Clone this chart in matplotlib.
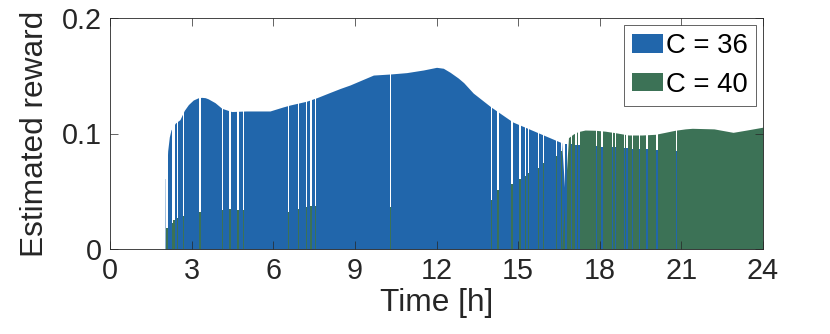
import numpy as np
import matplotlib
matplotlib.use('Agg')
import matplotlib.pyplot as plt
from matplotlib.patches import Patch

plt.rcParams['font.family'] = ['Liberation Sans', 'DejaVu Sans']

# time grid [h] and estimated reward of both configurations
t = np.array([2.02, 2.03, 2.07, 2.12, 2.18, 2.24, 2.40, 2.57, 2.73, 2.88, 3.06, 3.25, 3.37, 3.50, 3.61, 3.86,
              4.11, 4.47, 5.00, 5.88, 6.36, 6.62, 7.23, 7.60, 8.09, 8.46, 8.82, 9.19, 9.68, 10.29,
              10.9, 11.52, 12.0, 12.25, 12.5, 12.8, 13.0, 13.35, 14.0, 14.8, 15.3, 15.8, 16.1, 16.6,
              16.85, 17.03, 17.2, 17.46, 17.83, 18.2, 18.57, 19.06, 19.55, 20.04, 20.4, 20.77,
              21.14, 21.4, 22.2, 22.9, 23.4, 24.0])
c36 = np.array([0, 0.061, 0.061, 0.085, 0.097, 0.103, 0.109, 0.112, 0.120, 0.125, 0.129, 0.131, 0.1313, 0.131, 0.130, 0.1267,
                0.1218, 0.119, 0.1195, 0.1195, 0.123, 0.1247, 0.128, 0.131, 0.1356, 0.139, 0.142, 0.1457, 0.1506, 0.1515,
                0.1527, 0.155, 0.1573, 0.1565, 0.153, 0.148, 0.144, 0.135, 0.123, 0.110, 0.105, 0.100, 0.097, 0.092,
                0.0905, 0.090, 0.090, 0.0895, 0.089, 0.0886, 0.088, 0.0875, 0.087, 0.086, 0.0858, 0.085,
                0.085, 0.085, 0.085, 0.085, 0.085, 0.085])
c40 = np.array([0, 0.015, 0.017, 0.019, 0.020, 0.021, 0.025, 0.027, 0.029, 0.030, 0.031, 0.0315, 0.032, 0.0322, 0.0325, 0.033,
                0.0335, 0.0345, 0.034, 0.033, 0.032, 0.033, 0.036, 0.037, 0.037, 0.037, 0.037, 0.037, 0.0365, 0.0365,
                0.037, 0.0375, 0.038, 0.038, 0.038, 0.039, 0.039, 0.040, 0.042, 0.056, 0.063, 0.070, 0.076, 0.086,
                0.0964, 0.0996, 0.1016, 0.103, 0.1028, 0.102, 0.1007, 0.0987, 0.0987, 0.0993, 0.101, 0.1028,
                0.104, 0.1045, 0.104, 0.101, 0.103, 0.1055])

# instants where the upper series is missing and the lower one shows through
gap36_t = [2.10, 2.29, 2.35, 2.47, 2.70, 3.31, 4.13, 4.41, 4.70, 4.90, 6.56, 6.92, 7.23, 7.39, 7.56,
           10.32, 14.01, 14.26, 14.78, 15.07, 15.28, 15.38, 15.74, 15.93, 16.42, 16.60]
gap36_h = [0.018, 0.0225, 0.025, 0.027, 0.029, 0.032, 0.0335, 0.0345, 0.034, 0.034, 0.032, 0.0345, 0.036, 0.037, 0.037,
           0.0365, 0.042, 0.051, 0.056, 0.061, 0.063, 0.066, 0.070, 0.0745, 0.0805, 0.085]
gap40_t = [16.76, 16.97, 17.13, 17.24, 17.87, 18.08, 18.48, 18.57, 18.91, 19.00, 19.20, 19.45, 19.73, 20.10, 20.83]
gap40_h = [0.091, 0.0905, 0.090, 0.090, 0.089, 0.0886, 0.088, 0.088, 0.0875, 0.0875, 0.087, 0.087, 0.0863, 0.086, 0.085]

labels = ['C = 36', 'C = 40']
blue = '#2166ab'
green = '#3c7256'
ax_col = '#262626'

fig = plt.figure(figsize=(8.3, 3.34), dpi=100)
ax = fig.add_axes([110 / 830, 85 / 334, 653 / 830, 231 / 334])

ax.fill_between(t, 0, c36, where=c36 >= c40, interpolate=True, color=blue, lw=0, zorder=1)
ax.fill_between(t, 0, c40, where=c40 > c36, interpolate=True, color=green, lw=0, zorder=1)

w = 0.05
ax.bar(gap36_t, 1, width=w, color='white', lw=0, zorder=1.2)
ax.bar(gap36_t, gap36_h, width=w, color=green, lw=0, zorder=1.3)
ax.bar(gap40_t, 1, width=w, color='white', lw=0, zorder=1.2)
ax.bar(gap40_t, gap40_h, width=w, color=blue, lw=0, zorder=1.3)

ax.set_xlim(0, 24)
ax.set_ylim(0, 0.2)
ax.set_xticks(np.arange(0, 25, 3))
ax.set_yticks([0, 0.1, 0.2])
ax.set_yticklabels(['0', '0.1', '0.2'])
ax.tick_params(direction='in', length=6, width=0.5, top=True, right=True,
               labelsize=20.7, colors=ax_col, pad=6)
for s in ax.spines.values():
    s.set_linewidth(0.6)
    s.set_color(ax_col)
    s.set_zorder(3)

ax.set_xlabel('Time [h]', fontsize=22.8, color=ax_col, labelpad=2)
ax.set_ylabel('Estimated reward', fontsize=22.8, color=ax_col, labelpad=8)

handles = [Patch(facecolor=blue, edgecolor='none'), Patch(facecolor=green, edgecolor='none')]
leg = ax.legend(handles, labels, loc='upper right', fontsize=19.8, fancybox=False,
                framealpha=1, edgecolor=ax_col, handlelength=1.1, handleheight=0.65,
                handletextpad=0.12, labelspacing=0.45, borderpad=0.3, borderaxespad=0.25)
leg.get_frame().set_linewidth(0.5)
leg.set_zorder(5)

plt.savefig('out.png', dpi=100)
